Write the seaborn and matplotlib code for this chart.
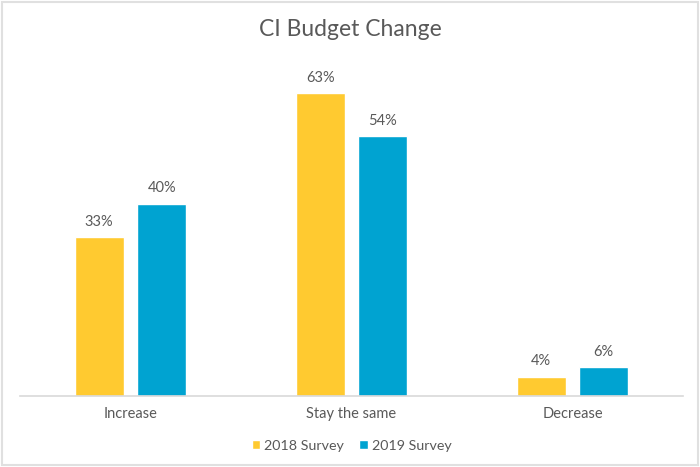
import matplotlib
matplotlib.use("Agg")
import matplotlib.pyplot as plt
import seaborn as sns
import pandas as pd
from matplotlib.patches import Rectangle

categories = ["Increase", "Stay the same", "Decrease"]
series_names = ["2018 Survey", "2019 Survey"]
values_2018 = [33, 63, 4]
values_2019 = [40, 54, 6]
colors = ["#FFCA30", "#00A3D1"]

df = pd.DataFrame({
    "Category": categories * 2,
    "Survey": [series_names[0]] * 3 + [series_names[1]] * 3,
    "Value": values_2018 + values_2019,
})

sns.set_theme(style="white")
plt.rcParams["font.family"] = ["Lato", "DejaVu Sans"]
text_color = "#595959"

fig = plt.figure(figsize=(7, 4.67), dpi=100)
ax = fig.add_axes([20 / 700, 71 / 467, 663 / 700, 336.7 / 467])

sns.barplot(data=df, x="Category", y="Value", hue="Survey", order=categories,
            hue_order=series_names, palette=colors, width=0.566, gap=0.215,
            saturation=1, ax=ax, legend=True)

ax.set_ylim(0, 70)
ax.set_xlim(-0.5, 2.5)
ax.set_xlabel("")
ax.set_ylabel("")
ax.set_yticks([])
for s in ["top", "right", "left"]:
    ax.spines[s].set_visible(False)
ax.spines["bottom"].set_color("#d9d9d9")
ax.spines["bottom"].set_linewidth(1.2)
ax.tick_params(axis="x", length=0, pad=8, labelsize=10.5, colors=text_color)

for container in ax.containers:
    ax.bar_label(container, labels=[f"{int(v)}%" for v in container.datavalues],
                 padding=6, fontsize=10.5, color=text_color)

leg = ax.legend(loc="center", bbox_to_anchor=(0.5, (467 - 446 - 71) / 336.7),
                ncol=2, frameon=False, fontsize=10.3, handlelength=0.6,
                handleheight=0.6, handletextpad=0.25, columnspacing=1.1)
for t in leg.get_texts():
    t.set_color(text_color)

fig.text(0.5, 1 - 30 / 467, "CI Budget Change", ha="center", va="center",
         fontsize=16.5, color=text_color)

fig.patches.append(Rectangle((2 / 700, 2 / 467), 696 / 700, 463 / 467,
                             transform=fig.transFigure, fill=False,
                             edgecolor="#e0e0e0", linewidth=1.5))

fig.savefig("out.png", dpi=100)
